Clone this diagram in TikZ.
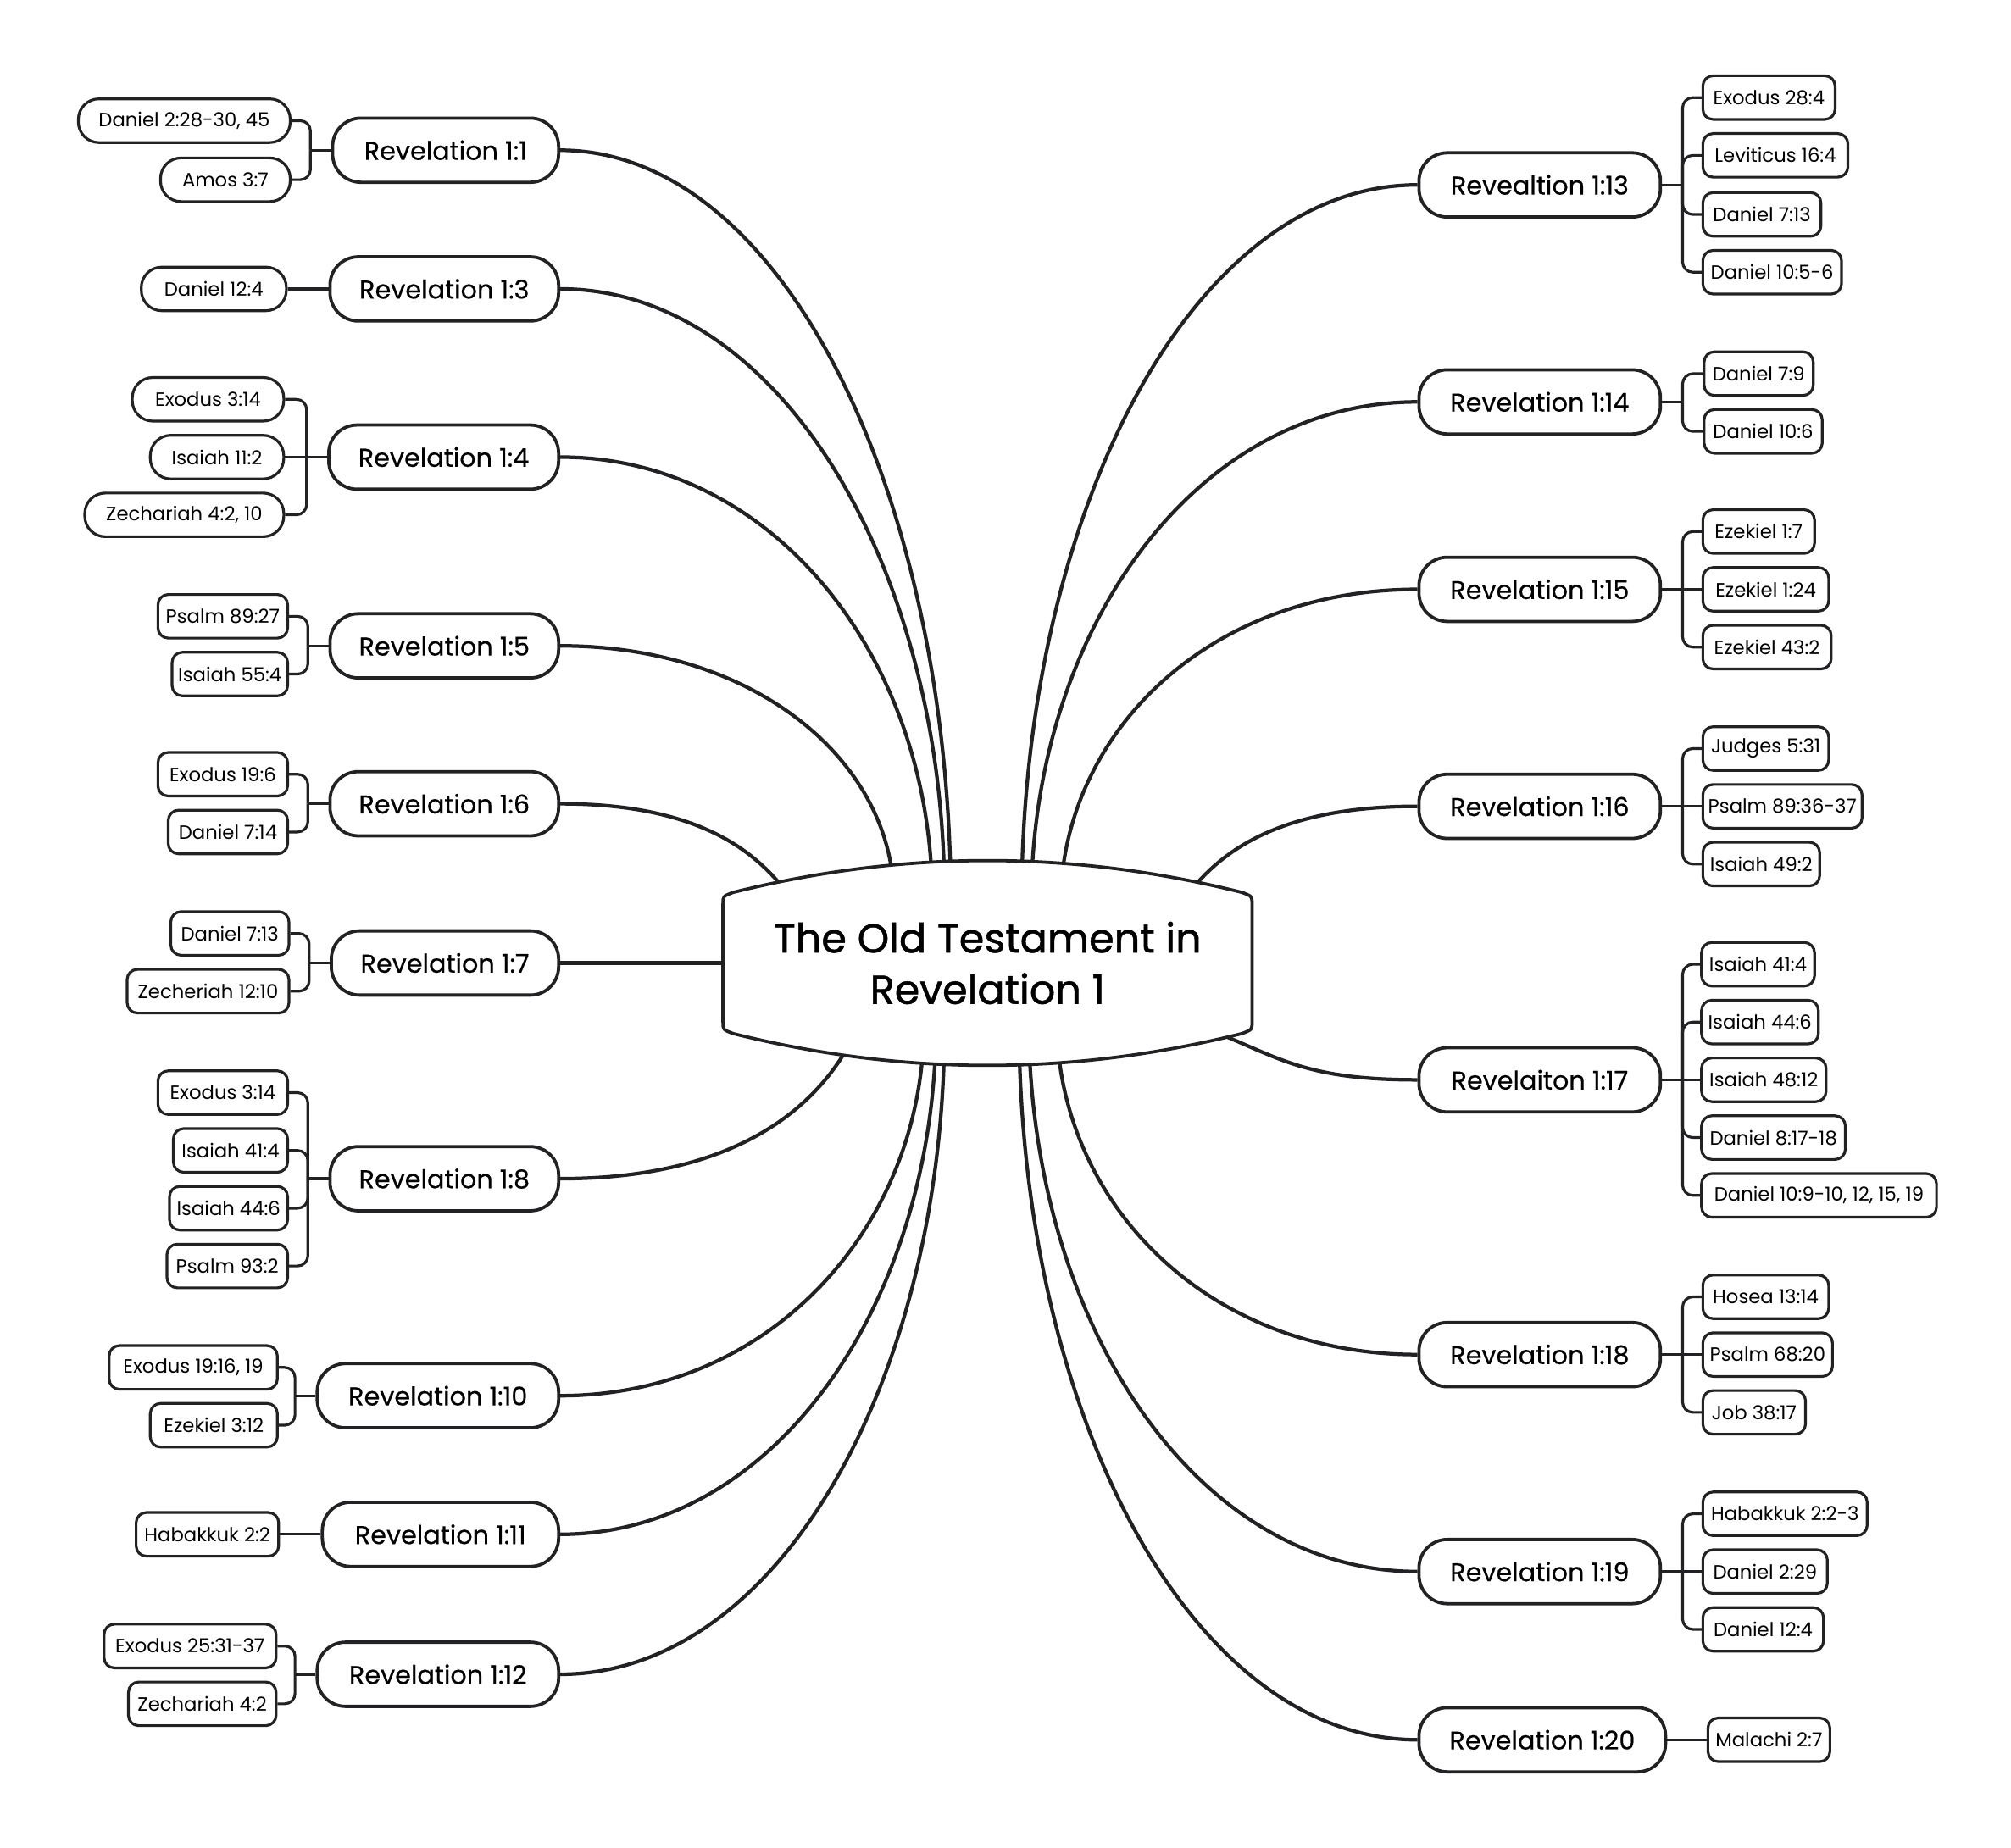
\documentclass[tikz,border=0pt]{standalone}
\usepackage{fontspec}
\setmainfont{Poppins}
\newfontfamily\titlefont{Poppins}[FakeBold=1.0]
\newfontfamily\mainfont{Poppins}[FakeBold=0.4]
\usetikzlibrary{calc}
\pgfdeclarelayer{bg}
\pgfsetlayers{bg,main}
\definecolor{ink}{RGB}{34,34,36}
\newcommand\mnode[5]{\node[mainnode, minimum width={#3-#2}] (#1) at ({(#2+#3)/2},#4) {#5};}
\newcommand\pleaf[5]{\node[pillleaf, minimum width={#3-#2}] (#1) at ({(#2+#3)/2},#4) {#5};}
\newcommand\rleaf[5]{\node[rectleaf, minimum width={#3-#2}] (#1) at ({(#2+#3)/2},#4) {#5};}
\newcommand\brL[2]{\draw[sublink] (#2.east) -| ($(#1.west)+(-16,0)$);}
\newcommand\brR[2]{\draw[sublink] (#2.west) -| ($(#1.east)+(16,0)$);}
\newcommand\stemL[1]{\draw[sublink] (#1.west) -- ++(-16,0);}
\newcommand\stemR[1]{\draw[sublink] (#1.east) -- ++(16,0);}
\newcommand\straightL[2]{\draw[sublink] (#1.west) -- (#2.east);}
\newcommand\straightR[2]{\draw[sublink] (#1.east) -- (#2.west);}
% #1 node anchor, #2 #3 end offset from centre, #4 slant of arrival
\newcommand\curv[4]{\draw[link] let \p1=(#1), \p2=($(c.center)+(#2,#3)$) in (\p1) .. controls ({\x1+0.55*(\x2-\x1)},{\y1}) and ({\x2+#4*(\x1-\x2)},{\y2+0.55*(\y1-\y2)}) .. (\p2);}
\begin{document}
\begin{tikzpicture}[x=1pt,y=-1pt,
  mainnode/.style={draw=ink, line width=2.5pt, fill=white, rectangle, rounded corners=22pt, minimum height=50pt, inner xsep=2pt, inner ysep=0pt, font=\mainfont\fontsize{20}{24}\selectfont, text=black},
  pillleaf/.style={draw=ink, line width=2.1pt, fill=white, rectangle, rounded corners=16pt, minimum height=34pt, inner xsep=2pt, inner ysep=0pt, font=\fontsize{15}{18}\selectfont, text=black},
  rectleaf/.style={draw=ink, line width=2.1pt, fill=white, rectangle, rounded corners=8pt, minimum height=34pt, inner xsep=2pt, inner ysep=0pt, font=\fontsize{15}{18}\selectfont, text=black},
  link/.style={draw=ink, line width=2.8pt},
  sublink/.style={draw=ink, line width=2.1pt, rounded corners=8pt}]
\useasboundingbox (0,0) rectangle (1566,1439);

% centre
\node[font=\titlefont\fontsize{31.5}{40}\selectfont, align=center, text=black, inner sep=0pt] (c) at (769,750) {The Old Testament in\\Revelation 1};

% left main nodes
\mnode{r1}{259}{435}{117}{Revelation 1:1}
\mnode{r3}{257}{435}{225}{Revelation 1:3}
\mnode{r4}{256}{435}{356}{Revelation 1:4}
\mnode{r5}{257}{435}{503}{Revelation 1:5}
\mnode{r6}{257}{435}{626}{Revelation 1:6}
\mnode{r7}{258}{435}{750}{Revelation 1:7}
\mnode{r8}{257}{435}{918}{Revelation 1:8}
\mnode{r10}{247}{435}{1087}{Revelation 1:10}
\mnode{r11}{251}{435}{1195}{Revelation 1:11}
\mnode{r12}{247}{435}{1304}{Revelation 1:12}
% right main nodes
\mnode{r13}{1105}{1293}{144}{Revealtion 1:13}
\mnode{r14}{1105}{1293}{313}{Revelation 1:14}
\mnode{r15}{1105}{1293}{459}{Revelation 1:15}
\mnode{r16}{1105}{1293}{628}{Revelation 1:16}
\mnode{r17}{1105}{1293}{841}{Revelaiton 1:17}
\mnode{r18}{1105}{1293}{1055}{Revelation 1:18}
\mnode{r19}{1105}{1293}{1224}{Revelation 1:19}
\mnode{r20}{1105}{1297}{1355}{Revelation 1:20}

% left leaves
\pleaf{l1a}{61}{226}{94}{Daniel 2:28-30, 45}
\pleaf{l1b}{125}{226}{140}{Amos 3:7}
\pleaf{l3a}{110}{223}{225}{Daniel 12:4}
\pleaf{l4a}{103}{221}{311}{Exodus 3:14}
\pleaf{l4b}{117}{221}{356}{Isaiah 11:2}
\pleaf{l4c}{66}{221}{401}{Zechariah 4:2, 10}
\rleaf{l5a}{123}{224}{480}{Psalm 89:27}
\rleaf{l5b}{134}{224}{525}{Isaiah 55:4}
\rleaf{l6a}{123}{224}{603}{Exodus 19:6}
\rleaf{l6b}{131}{224}{648}{Daniel 7:14}
\rleaf{l7a}{133}{225}{727}{Daniel 7:13}
\rleaf{l7b}{99}{225}{772}{Zecheriah 12:10}
\rleaf{l8a}{123}{224}{851}{Exodus 3:14}
\rleaf{l8b}{135}{224}{896}{Isaiah 41:4}
\rleaf{l8c}{132}{224}{941}{Isaiah 44:6}
\rleaf{l8d}{130}{224}{986}{Psalm 93:2}
\rleaf{l10a}{85}{216}{1065}{Exodus 19:16, 19}
\rleaf{l10b}{117}{216}{1110}{Ezekiel 3:12}
\rleaf{l11a}{106}{217}{1195}{Habakkuk 2:2}
\rleaf{l12a}{81}{215}{1282}{Exodus 25:31-37}
\rleaf{l12b}{100}{215}{1327}{Zechariah 4:2}

% right leaves
\rleaf{q13a}{1326}{1429}{76}{Exodus 28:4}
\rleaf{q13b}{1326}{1439}{121}{Leviticus 16:4}
\rleaf{q13c}{1326}{1418}{167}{Daniel 7:13}
\rleaf{q13d}{1326}{1434}{212}{Daniel 10:5-6}
\rleaf{q14a}{1327}{1412}{291}{Daniel 7:9}
\rleaf{q14b}{1327}{1419}{336}{Daniel 10:6}
\rleaf{q15a}{1326}{1413}{414}{Ezekiel 1:7}
\rleaf{q15b}{1326}{1424}{459}{Ezekiel 1:24}
\rleaf{q15c}{1326}{1426}{504}{Ezekiel 43:2}
\rleaf{q16a}{1326}{1424}{583}{Judges 5:31}
\rleaf{q16b}{1326}{1450}{628}{Psalm 89:36-37}
\rleaf{q16c}{1326}{1417}{673}{Isaiah 49:2}
\rleaf{q17a}{1325}{1413}{751}{Isaiah 41:4}
\rleaf{q17b}{1325}{1416}{796}{Isaiah 44:6}
\rleaf{q17c}{1325}{1422}{841}{Isaiah 48:12}
\rleaf{q17d}{1325}{1437}{886}{Daniel 8:17-18}
\rleaf{q17e}{1325}{1508}{931}{Daniel 10:9-10, 12, 15, 19}
\rleaf{q18a}{1326}{1424}{1010}{Hosea 13:14}
\rleaf{q18b}{1326}{1427}{1055}{Psalm 68:20}
\rleaf{q18c}{1326}{1406}{1100}{Job 38:17}
\rleaf{q19a}{1326}{1454}{1179}{Habakkuk 2:2-3}
\rleaf{q19b}{1326}{1423}{1224}{Daniel 2:29}
\rleaf{q19c}{1326}{1420}{1269}{Daniel 12:4}
\rleaf{q20a}{1330}{1425}{1355}{Malachi 2:7}

\begin{pgfonlayer}{bg}
% main connectors (quarter-ellipse curves)
\curv{r1.east}{-29}{-78}{0.03}
\curv{r3.east}{-34}{-78}{0.03}
\curv{r4.east}{-44}{-77}{0.04}
\curv{r5.east}{-75}{-75}{0.06}
\curv{r6.east}{-162}{-62}{0.17}
\draw[link] (r7.east) -- (c.center);
\curv{r8.east}{-112}{71}{0.15}
\curv{r10.east}{-51}{77}{0.05}
\curv{r11.east}{-41}{78}{0.04}
\curv{r12.east}{-34}{78}{0.03}
\curv{r13.west}{27}{-78}{0.03}
\curv{r14.west}{35}{-78}{0.04}
\curv{r15.west}{59}{-76}{0.06}
\curv{r16.west}{163}{-62}{0.17}
\curv{r17.west}{185}{57}{0.3}
\curv{r18.west}{56}{77}{0.06}
\curv{r19.west}{33}{78}{0.04}
\curv{r20.west}{25}{78}{0.03}
% centre shape
\draw[draw=ink, line width=2.5pt, fill=white]
  ($(c.center)+(-206,-46)$) -- ($(c.center)+(-206,46)$)
  .. controls ($(c.center)+(-206,52)$) .. ($(c.center)+(-198,55)$)
  .. controls ($(c.center)+(-66,88)$) and ($(c.center)+(66,88)$) .. ($(c.center)+(198,55)$)
  .. controls ($(c.center)+(206,52)$) .. ($(c.center)+(206,46)$)
  -- ($(c.center)+(206,-46)$)
  .. controls ($(c.center)+(206,-52)$) .. ($(c.center)+(198,-55)$)
  .. controls ($(c.center)+(66,-88)$) and ($(c.center)+(-66,-88)$) .. ($(c.center)+(-198,-55)$)
  .. controls ($(c.center)+(-206,-52)$) .. cycle;
% left brackets
\stemL{r1}\brL{r1}{l1a}\brL{r1}{l1b}
\straightL{r3}{l3a}
\stemL{r4}\brL{r4}{l4a}\straightL{r4}{l4b}\brL{r4}{l4c}
\stemL{r5}\brL{r5}{l5a}\brL{r5}{l5b}
\stemL{r6}\brL{r6}{l6a}\brL{r6}{l6b}
\stemL{r7}\brL{r7}{l7a}\brL{r7}{l7b}
\stemL{r8}\brL{r8}{l8a}\brL{r8}{l8b}\brL{r8}{l8c}\brL{r8}{l8d}
\stemL{r10}\brL{r10}{l10a}\brL{r10}{l10b}
\straightL{r11}{l11a}
\stemL{r12}\brL{r12}{l12a}\brL{r12}{l12b}
% right brackets
\stemR{r13}\brR{r13}{q13a}\brR{r13}{q13b}\brR{r13}{q13c}\brR{r13}{q13d}
\stemR{r14}\brR{r14}{q14a}\brR{r14}{q14b}
\stemR{r15}\brR{r15}{q15a}\straightR{r15}{q15b}\brR{r15}{q15c}
\stemR{r16}\brR{r16}{q16a}\straightR{r16}{q16b}\brR{r16}{q16c}
\stemR{r17}\brR{r17}{q17a}\brR{r17}{q17b}\straightR{r17}{q17c}\brR{r17}{q17d}\brR{r17}{q17e}
\stemR{r18}\brR{r18}{q18a}\straightR{r18}{q18b}\brR{r18}{q18c}
\stemR{r19}\brR{r19}{q19a}\straightR{r19}{q19b}\brR{r19}{q19c}
\straightR{r20}{q20a}
\end{pgfonlayer}
\end{tikzpicture}
\end{document}
